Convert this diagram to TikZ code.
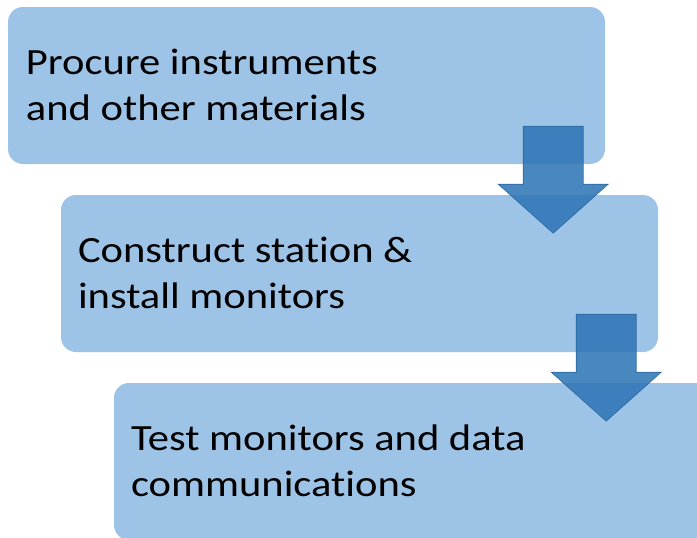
\documentclass[tikz,border=0pt]{standalone}
\usepackage{fontspec}
\setmainfont{Carlito}[FakeStretch = 1.15, Ligatures = NoCommon]
\definecolor{boxblue}{RGB}{157,195,230}
\definecolor{arrowblue}{RGB}{46,117,182}
\tikzset{
  stepbox/.style = {draw = none, fill = boxblue, rounded corners = 15pt,
    minimum width = 597pt, minimum height = 157pt, inner sep = 0pt},
  steptext/.style = {anchor = base west, align = left, inner sep = 0pt,
    font = \fontsize{37}{46}\selectfont},
  downarrow/.style = {draw = arrowblue!85!black, line width = .6pt,
    fill = arrowblue, fill opacity = .87, draw opacity = .9}
}

\begin{document}
\begin{tikzpicture}[x = 1pt, y = 1pt]
\useasboundingbox (0,0) rectangle (697,-538);
\clip (0,0) rectangle (697,-538);
% the three steps
\node[stepbox] (b1) at (306.5,-85.5) {};
\node[stepbox] (b2) at ([shift={(53,-188)}]b1) {};
\node[stepbox] (b3) at ([shift={(53,-188)}]b2) {};
\node[steptext] (t1) at ([shift={(18,-113.5)}]b1.north west) {Procure instruments\\and other materials};
\node[steptext] (t2) at ([shift={(17,-113.5)}]b2.north west) {Construct station \&\\install monitors};
\node[steptext] (t3) at ([shift={(17,-113.5)}]b3.north west) {Test monitors and data\\communications};
% block arrows between the steps
\foreach \a in {b1,b2}
  \draw[downarrow, shift={(\a.south east)}] (-82,38) -- (-22,38) -- (-22,-20) -- (3,-20)
    -- (-52,-69) -- (-107,-20) -- (-82,-20) -- cycle;
\end{tikzpicture}
\end{document}
